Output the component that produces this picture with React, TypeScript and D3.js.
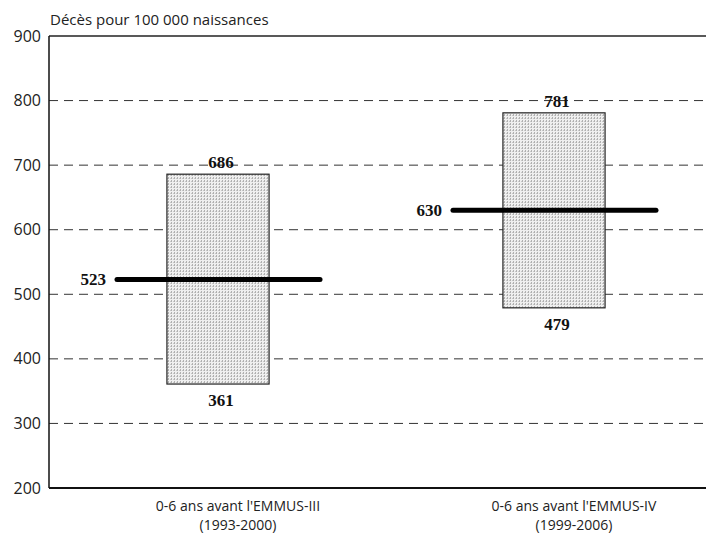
import React from "react";
import * as d3 from "d3";

const categories = ["0-6 ans avant l'EMMUS-III", "0-6 ans avant l'EMMUS-IV"];
const periods = ["(1993-2000)", "(1999-2006)"];
const lowValues = [361, 479];
const highValues = [686, 781];
const centralValues = [523, 630];
const yTicks = [200, 300, 400, 500, 600, 700, 800, 900];
const yTitle = "Décès pour 100 000 naissances";

const W = 710;
const H = 537;
const left = 49;
const right = 706;
const top = 36;
const bottom = 488;

export default function App() {
  const y = d3.scaleLinear().domain([200, 900]).range([bottom, top]);
  const x = d3
    .scaleBand<string>()
    .domain(categories)
    .range([left, left + 674])
    .paddingInner(0.696)
    .paddingOuter(0.351);
  const bw = x.bandwidth();
  const sans = "'Open Sans', 'DejaVu Sans', sans-serif";
  const serif = "'Liberation Serif', 'DejaVu Serif', serif";
  return (
    <svg width={W} height={H} style={{ position: "absolute", left: 0, top: 0, background: "#fff" }}>
      <defs>
        <pattern id="stip" width="3" height="3" patternUnits="userSpaceOnUse">
          <rect width="3" height="3" fill="#efefef" />
          <rect width="1" height="2" fill="#b0b0b0" />
          <rect x="2" y="1" width="1" height="1" fill="#c8c8c8" />
        </pattern>
      </defs>
      <text x={50} y={25} fontFamily={sans} fontSize={15} fill="#222">{yTitle}</text>
      {yTicks.map((t) => (
        <g key={t}>
          {t > 200 && t < 900 && (
            <line x1={left} x2={right} y1={y(t)} y2={y(t)} stroke="#333" strokeWidth={1} strokeDasharray="9,6" />
          )}
          <text x={41} y={y(t)} dy="0.35em" textAnchor="end" fontFamily={sans} fontSize={16} fill="#222">{t}</text>
        </g>
      ))}
      <line x1={left} x2={right} y1={y(900)} y2={y(900)} stroke="#222" strokeWidth={1.5} />
      {categories.map((c, i) => {
        const cx = (x(c) as number) + bw / 2;
        return (
          <g key={c}>
            <rect x={x(c)} y={y(highValues[i])} width={bw} height={y(lowValues[i]) - y(highValues[i])} fill="url(#stip)" stroke="#222" strokeWidth={1.2} />
            <line x1={cx - 101} x2={cx + 102} y1={y(centralValues[i])} y2={y(centralValues[i])} stroke="#000" strokeWidth={5} strokeLinecap="round" />
            <text x={cx + 3} y={y(highValues[i]) - 6} textAnchor="middle" fontFamily={serif} fontWeight="bold" fontSize={17} fill="#111">{highValues[i]}</text>
            <text x={cx + 3} y={y(lowValues[i]) + 22} textAnchor="middle" fontFamily={serif} fontWeight="bold" fontSize={17} fill="#111">{lowValues[i]}</text>
            <text x={cx - 112} y={y(centralValues[i])} dy="0.35em" textAnchor="end" fontFamily={serif} fontWeight="bold" fontSize={17} fill="#111">{centralValues[i]}</text>
            <text x={cx + 20} y={511} textAnchor="middle" fontFamily={sans} fontSize={14} fill="#222">{c}</text>
            <text x={cx + 20} y={530} textAnchor="middle" fontFamily={sans} fontSize={14} fill="#222">{periods[i]}</text>
          </g>
        );
      })}
      <line x1={left} x2={left} y1={top} y2={bottom} stroke="#111" strokeWidth={1.5} />
      <line x1={left} x2={right} y1={bottom} y2={bottom} stroke="#111" strokeWidth={2} />
    </svg>
  );
}
